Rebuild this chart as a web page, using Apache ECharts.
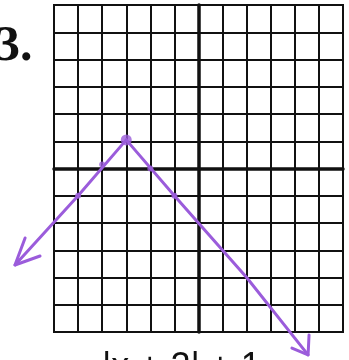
<!DOCTYPE html>
<html><head><meta charset="utf-8">
<script src="https://cdn.jsdelivr.net/npm/echarts@6/dist/echarts.min.js"></script>
<style>html,body{margin:0;padding:0;background:#fff;}#c{width:349px;height:360px;}</style>
</head><body><div id="c"></div>
<script>
const xRange = [-6, 6];
const yRange = [-6, 6];
const vertex = [[-3, 1.05]];
const leftRay = [[-3, 1.05], [-5, -1], [-7.62, -3.54]];
const rightRay = [[-3, 1.05], [-1, -1], [2, -4], [4.55, -6.84]];
const leftArrowHead = [[-7.20, -2.55], [-7.62, -3.54], [-6.58, -3.21]];
const rightArrowHead = [[4.59, -6.11], [4.55, -6.84], [3.88, -6.59]];
const pointMarks = [[-4, 0.15], [-5, -1], [-2, 0], [-1, -1]];
const problemLabel = '3.';
const equationText = '|x + 2| + 1';

const purple = '#9b5cdb';
const chart = echarts.init(document.getElementById('c'), null, {renderer: 'canvas'});
const strokes = [leftRay, rightRay, leftArrowHead, rightArrowHead];
chart.setOption({
  animation: false,
  grid: {left: 54, right: 6, top: 5, bottom: 28, show: true, borderColor: '#111', borderWidth: 2},
  xAxis: {
    type: 'value', min: xRange[0], max: xRange[1], interval: 1,
    axisLine: {onZero: true, lineStyle: {color: '#111', width: 3.5}},
    axisTick: {show: false}, axisLabel: {show: false},
    splitLine: {show: true, lineStyle: {color: '#111', width: 2}}
  },
  yAxis: {
    type: 'value', min: yRange[0], max: yRange[1], interval: 1,
    axisLine: {show: true, onZero: true, lineStyle: {color: '#111', width: 3.5}},
    axisTick: {show: false}, axisLabel: {show: false},
    splitLine: {show: true, lineStyle: {color: '#111', width: 2}}
  },
  series: [
    {
      type: 'custom', clip: false, silent: true, z: 5,
      data: strokes.map(function (s, i) { return [i]; }),
      renderItem: function (params, api) {
        const pts = strokes[params.dataIndex].map(function (p) { return api.coord(p); });
        return {type: 'polyline', shape: {points: pts},
          style: {stroke: purple, lineWidth: 3, fill: null, lineJoin: 'round', lineCap: 'round'}};
      }
    },
    {type: 'scatter', data: vertex, symbol: 'circle', symbolSize: 11, itemStyle: {color: purple}, z: 6, silent: true},
    {type: 'scatter', data: pointMarks, symbol: 'circle', symbolSize: 6, itemStyle: {color: purple}, z: 6, silent: true}
  ],
  graphic: [
    {type: 'text', left: -5, top: 22, style: {text: problemLabel, font: 'bold 50px "Liberation Serif"', fill: '#111'}},
    {type: 'text', x: 102, y: 368, style: {text: equationText, font: '36px "Liberation Sans"', fill: '#111', verticalAlign: 'middle', align: 'left'}}
  ]
});
</script></body></html>
